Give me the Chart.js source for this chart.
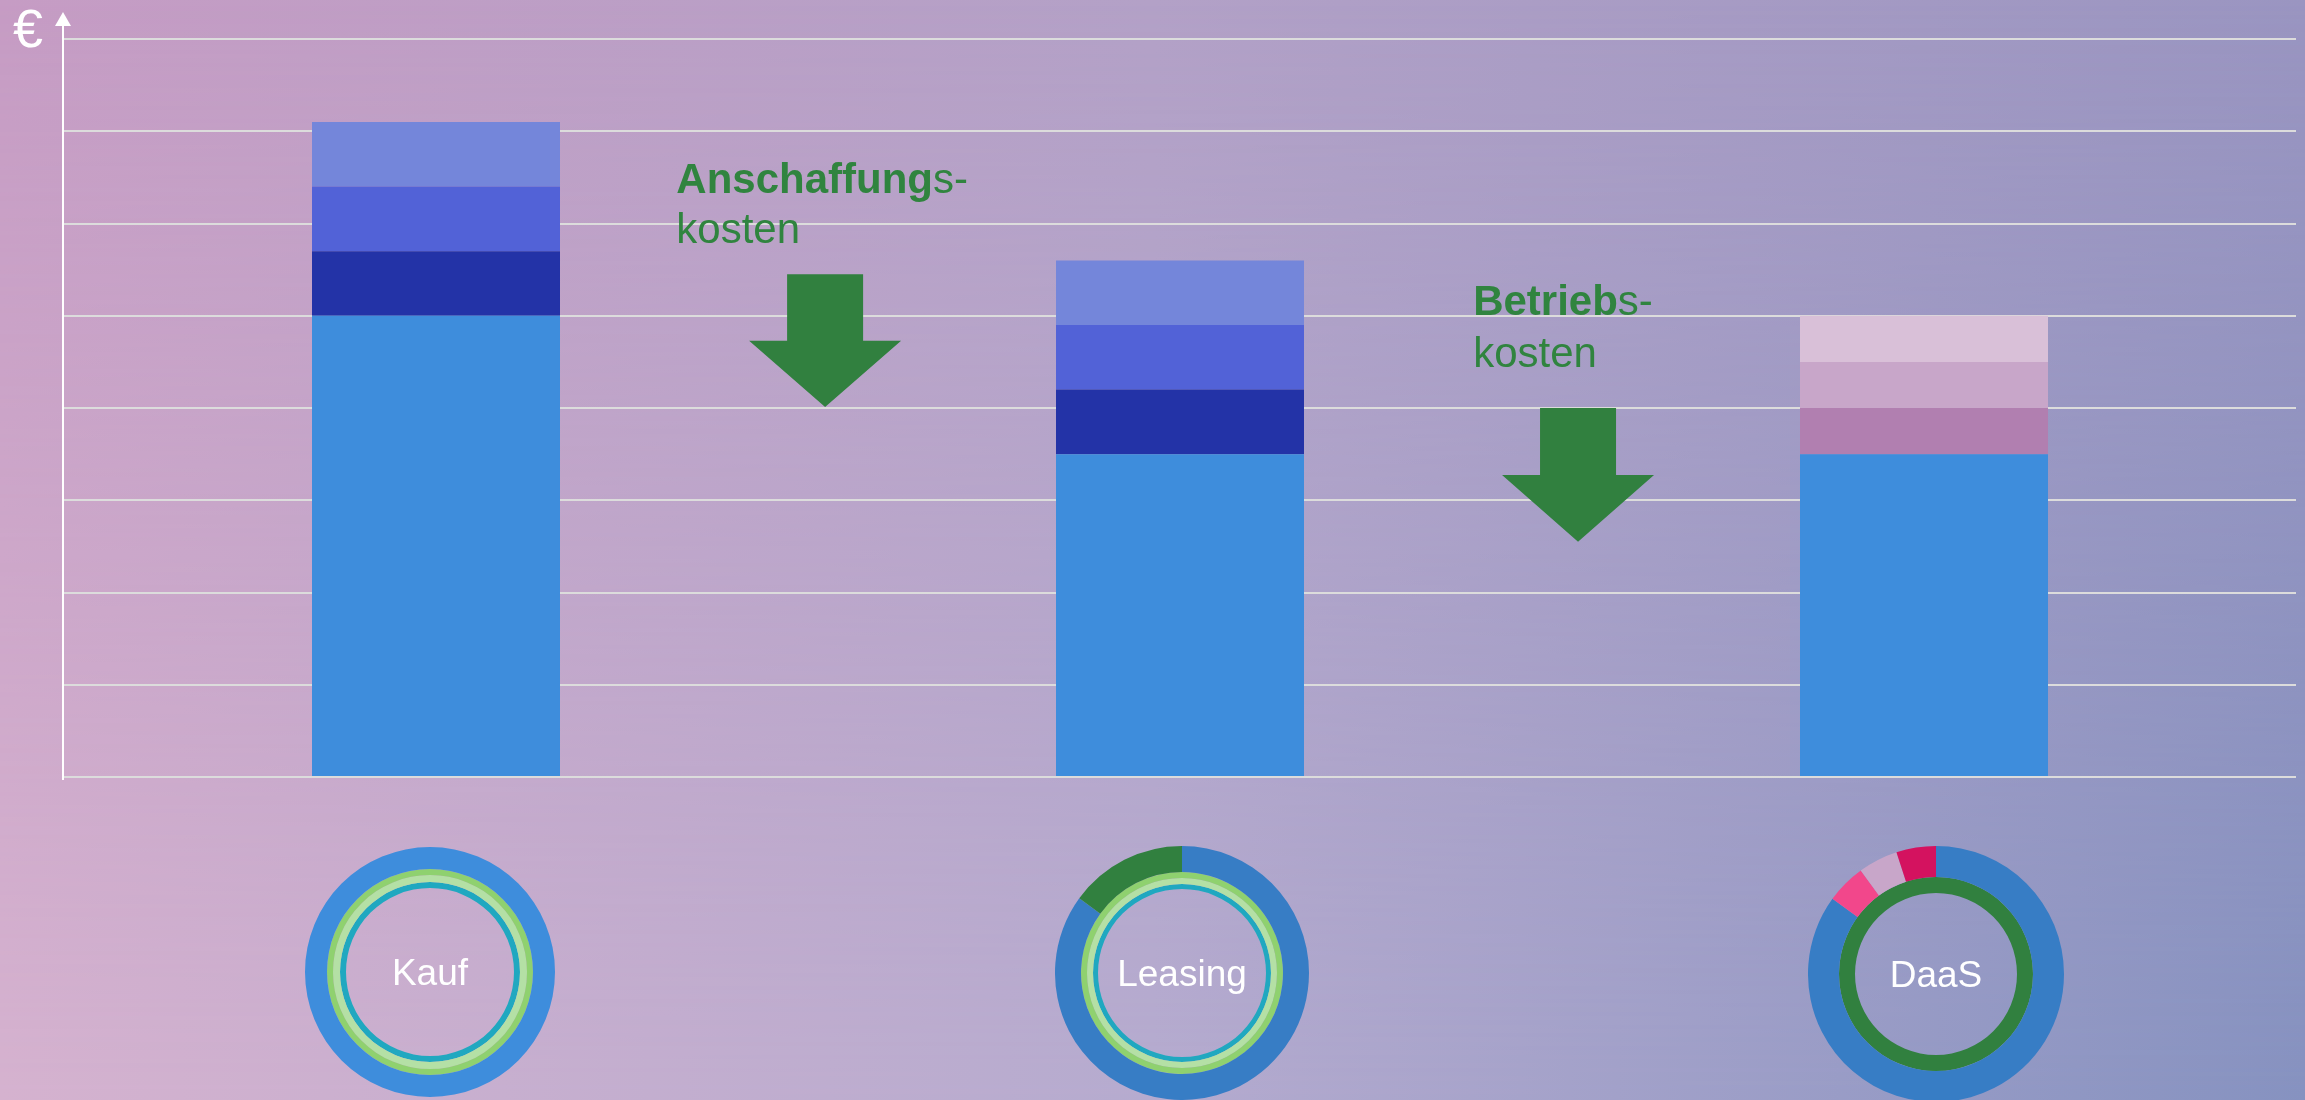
<!DOCTYPE html>
<html lang="de">
<head>
<meta charset="utf-8">
<title>Kauf – Leasing – DaaS</title>
<script src="https://cdn.jsdelivr.net/npm/chart.js@4.4.0/dist/chart.umd.min.js"></script>
<style>
  html, body { margin: 0; padding: 0; }
  body {
    width: 2305px;
    height: 1100px;
    overflow: hidden;
    position: relative;
    background: linear-gradient(to right, #c69cc4, #b3a1c7 50%, #9a95c1);
    font-family: "Liberation Sans", Arial, sans-serif;
  }
  /* untere Hälfte heller rosa links, blauer rechts */
  body::before {
    content: "";
    position: absolute;
    left: 0; top: 0; width: 100%; height: 100%;
    background: linear-gradient(to right, #d5b2cf, #b5abcf 50%, #8692c0);
    -webkit-mask-image: linear-gradient(to bottom, transparent, #000);
    mask-image: linear-gradient(to bottom, transparent, #000);
  }
  canvas { position: absolute; }
  #costChart { left: 0; top: 0; }
  #kaufDonut { left: 305px; top: 847px; }
  #leasingDonut { left: 1055px; top: 846px; }
  #daasDonut { left: 1808px; top: 846px; }
</style>
</head>
<body>
<canvas id="costChart" width="2305" height="1100"></canvas>
<canvas id="kaufDonut" width="250" height="250"></canvas>
<canvas id="leasingDonut" width="254" height="254"></canvas>
<canvas id="daasDonut" width="256" height="256"></canvas>
<script>
// Daten
const categories = ["Kauf", "Leasing", "DaaS"];
const basisKosten = [5, 3.5, 3.5];
const kostenStufe1 = [0.7, 0.7, 0.5];
const kostenStufe2 = [0.7, 0.7, 0.5];
const kostenStufe3 = [0.7, 0.7, 0.5];
const yMax = 8;
const yStep = 1;

// Ringe (Anteile in %)
const kaufRing = [100];
const leasingRing = [85, 15];
const daasRing = [85, 5, 5, 5];
const innerRing = [100];

const green = "#31803f";

// Pfeil nach unten zeichnen
function drawArrow(ctx, cx, top, tip) {
  const neck = top + (tip - top) * 0.5;
  ctx.beginPath();
  ctx.moveTo(cx - 38, top);
  ctx.lineTo(cx + 38, top);
  ctx.lineTo(cx + 38, neck);
  ctx.lineTo(cx + 76, neck);
  ctx.lineTo(cx, tip);
  ctx.lineTo(cx - 76, neck);
  ctx.lineTo(cx - 38, neck);
  ctx.closePath();
  ctx.fill();
}

// Beschriftung mit fettem Anfang
function drawLabel(ctx, x, y1, y2, boldPart, rest, line2) {
  ctx.font = "bold 42px 'Liberation Sans'";
  ctx.fillText(boldPart, x, y1);
  const w = ctx.measureText(boldPart).width;
  ctx.font = "42px 'Liberation Sans'";
  ctx.fillText(rest, x + w, y1);
  ctx.fillText(line2, x, y2);
}

// Achse, Euro-Zeichen, Pfeile und Texte
const annotationPlugin = {
  id: "annotations",
  afterDraw(chart) {
    const ctx = chart.ctx;
    const area = chart.chartArea;
    const xs = chart.scales.x;
    const ys = chart.scales.y;
    ctx.save();

    const ax = area.left - 1;
    ctx.strokeStyle = "#ffffff";
    ctx.fillStyle = "#ffffff";
    ctx.lineWidth = 2;
    ctx.beginPath();
    ctx.moveTo(ax, area.bottom + 3);
    ctx.lineTo(ax, 24);
    ctx.stroke();
    ctx.beginPath();
    ctx.moveTo(ax, 12);
    ctx.lineTo(ax - 8, 26);
    ctx.lineTo(ax + 8, 26);
    ctx.closePath();
    ctx.fill();

    ctx.font = "54px 'Liberation Sans'";
    ctx.textAlign = "left";
    ctx.textBaseline = "alphabetic";
    ctx.fillText("€", 13, 47);

    ctx.fillStyle = green;
    drawArrow(ctx, xs.getPixelForValue(0.523), ys.getPixelForValue(5.45), ys.getPixelForValue(4.01));
    drawArrow(ctx, xs.getPixelForValue(1.535), ys.getPixelForValue(4.0), ys.getPixelForValue(2.55));

    ctx.fillStyle = "#30843f";
    drawLabel(ctx, xs.getPixelForValue(0.323), ys.getPixelForValue(6.33), ys.getPixelForValue(5.79),
      "Anschaffung", "s-", "kosten");
    drawLabel(ctx, xs.getPixelForValue(1.394), ys.getPixelForValue(5.01), ys.getPixelForValue(4.44),
      "Betrieb", "s-", "kosten");
    ctx.restore();
  },
};

// gestapeltes Säulendiagramm
const barCanvas = document.getElementById("costChart");
const costChart = new Chart(barCanvas, {
  type: "bar",
  data: {
    labels: categories,
    datasets: [
      { data: basisKosten, backgroundColor: ["#3e8ddc", "#3e8ddc", "#3e8ddc"] },
      { data: kostenStufe1, backgroundColor: ["#2333a7", "#2333a7", "#b17fb0"] },
      { data: kostenStufe2, backgroundColor: ["#5262d7", "#5262d7", "#c8a6c9"] },
      { data: kostenStufe3, backgroundColor: ["#7486da", "#7486da", "#d9c0d8"] },
    ],
  },
  options: {
    responsive: false,
    animation: false,
    events: [],
    borderWidth: 0,
    categoryPercentage: 1,
    barPercentage: 1 / 3,
    layout: { padding: { left: 64, top: 39, right: 9, bottom: 323 } },
    plugins: { legend: { display: false }, tooltip: { enabled: false } },
    scales: {
      x: {
        stacked: true,
        grid: { display: false, drawTicks: false },
        border: { display: false },
        ticks: { display: false },
      },
      y: {
        stacked: true,
        min: 0,
        max: yMax,
        ticks: { display: false, stepSize: yStep },
        grid: { color: "#dcdcdc", lineWidth: 2, drawTicks: false },
        border: { display: false },
      },
    },
  },
  plugins: [annotationPlugin],
});

// Text in der Ringmitte
const centerLabelPlugin = {
  id: "centerLabel",
  afterDraw(chart, args, opts) {
    const ctx = chart.ctx;
    const a = chart.chartArea;
    ctx.save();
    ctx.fillStyle = "#ffffff";
    ctx.font = "37px 'Liberation Sans'";
    ctx.textAlign = "center";
    ctx.textBaseline = "alphabetic";
    ctx.fillText(opts.text, (a.left + a.right) / 2, (a.top + a.bottom) / 2 + 13);
    ctx.restore();
  },
};

function createDonut(id, label, rings, cutout) {
  return new Chart(document.getElementById(id), {
    type: "doughnut",
    data: {
      datasets: rings.map(function (r) {
        return {
          data: r.data,
          backgroundColor: r.colors,
          weight: r.weight,
          borderWidth: 0,
          hoverBorderWidth: 0,
          hoverOffset: 0,
        };
      }),
    },
    options: {
      responsive: false,
      animation: false,
      events: [],
      cutout: cutout,
      plugins: { legend: { display: false }, tooltip: { enabled: false }, centerLabel: { text: label } },
    },
    plugins: [centerLabelPlugin],
  });
}

createDonut("kaufDonut", categories[0], [
  { data: kaufRing, colors: ["#3e8ddc"], weight: 22 },
  { data: innerRing, colors: ["#8fd16f"], weight: 6 },
  { data: innerRing, colors: ["#b4e0a5"], weight: 7 },
  { data: innerRing, colors: ["#20a8c0"], weight: 6 },
], 84);

createDonut("leasingDonut", categories[1], [
  { data: leasingRing, colors: ["#377dc5", green], weight: 26 },
  { data: innerRing, colors: ["#8fd16f"], weight: 6 },
  { data: innerRing, colors: ["#b4e0a5"], weight: 6 },
  { data: innerRing, colors: ["#20a8c0"], weight: 5 },
], 84);

createDonut("daasDonut", categories[2], [
  { data: daasRing, colors: ["#377dc5", "#f2478b", "#c8a6c9", "#d4125f"], weight: 31 },
  { data: innerRing, colors: [green], weight: 16 },
], 81);
</script>
</body>
</html>
